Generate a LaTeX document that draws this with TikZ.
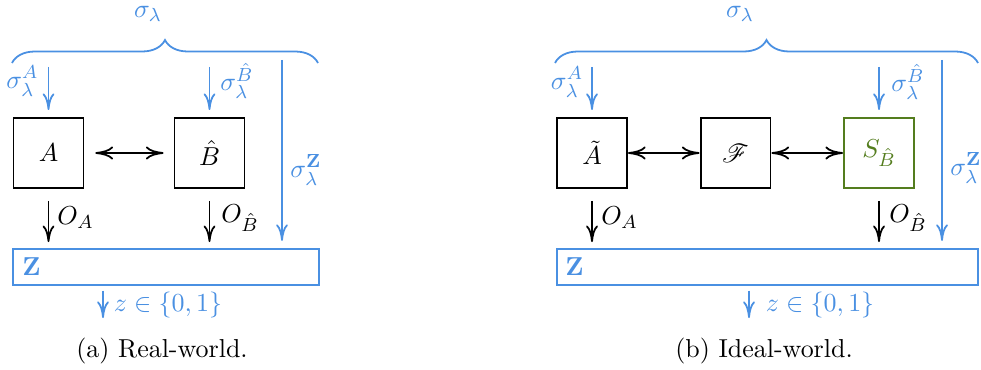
\documentclass[tikz,border=0pt,11pt]{standalone}
\usepackage{amsmath,amssymb,mathrsfs}
\usetikzlibrary{arrows.meta,decorations.pathreplacing,positioning}
\definecolor{sigblue}{RGB}{74,144,226}
\definecolor{simgreen}{RGB}{84,125,30}
\tikzset{
	party/.style={draw,line width=0.8pt,minimum size=29.5pt,inner sep=0pt},
	zbox/.style={draw=sigblue,line width=0.8pt,minimum height=15.2pt,inner sep=0pt},
	lab/.style={inner sep=0pt},
	siglab/.style={inner sep=0pt,text=sigblue},
	sig/.style={sigblue,line width=0.75pt,-{To[length=7pt,width=5pt]},shorten >=3pt},
	outarr/.style={line width=0.75pt,-{To[length=7pt,width=5pt]},shorten <=5pt,shorten >=2.5pt},
	chan/.style={line width=0.75pt,{To[length=7.5pt,width=5.5pt]}-{To[length=7.5pt,width=5.5pt]}},
	brc/.style={sigblue,line width=0.75pt,decorate,decoration={brace,amplitude=9.7pt}},
}
\begin{document}
\begin{tikzpicture}[x=0.4219pt,y=-0.4219pt]
	\useasboundingbox (0,0) rectangle (981,370);
	% (a) real world
	\draw[brc] (12,63) -- (318,63);
	\node[siglab] (sigL) at (148,14) {$\sigma_\lambda$};
	\node[party] (A) at (48.5,153) {$A$};
	\node[party] (B) at (209.5,153) {$\hat{B}$};
	\node[zbox,minimum width=129pt] (Z) at (166,267) {};
	\node[siglab,anchor=west] (Zlab) at (22,267) {$\mathbf{Z}$};
	\coordinate (sA) at (48.5,67);
	\coordinate (sB) at (209.5,67);
	\coordinate (sZ) at (282,60);
	\coordinate (zout) at (103,318);
	\draw[sig] (sA) -- (A.north);
	\draw[sig] (sB) -- (B.north);
	\draw[sig] (sZ) -- (sZ |- Z.north);
	\draw[chan,shorten <=4.6pt,shorten >=4.2pt] (A) -- (B);
	\draw[outarr] (A.south) -- (A.south |- Z.north);
	\draw[outarr] (B.south) -- (B.south |- Z.north);
	\draw[sig,shorten <=2pt,shorten >=0pt] (zout |- Z.south) -- (zout);
	\node[siglab] (sAlab) at (22.5,81) {$\sigma_\lambda^{A}$};
	\node[siglab] (sBlab) at (237,81) {$\sigma_\lambda^{\hat{B}}$};
	\node[siglab] (sZlab) at (306,170) {$\sigma_\lambda^{\mathbf{Z}}$};
	\node[lab,anchor=west] (OA) at (57,218) {$O_A$};
	\node[lab,anchor=west] (OB) at (221,218) {$O_{\hat{B}}$};
	\node[siglab] (zlab) at (168,305) {$z\in\{0,1\}$};
	\node[lab] (capA) at (162,351) {(a) Real-world.};
	% (b) ideal world
	\draw[brc] (555,63) -- (978,63);
	\node[siglab] (sigR) at (740,14) {$\sigma_\lambda$};
	\node[party] (At) at (592,153) {$\tilde{A}$};
	\node[party] (F) at (735.5,153) {$\mathscr{F}$};
	\node[party,draw=simgreen,text=simgreen] (S) at (879,153) {$S_{\hat{B}}$};
	\node[zbox,minimum width=177.6pt] (Zr) at (767.5,267) {};
	\node[siglab,anchor=west] (Zrlab) at (565,267) {$\mathbf{Z}$};
	\coordinate (sAr) at (592,67);
	\coordinate (sBr) at (879,67);
	\coordinate (sZr) at (942,60);
	\coordinate (zoutr) at (749,318);
	\draw[sig] (sAr) -- (At.north);
	\draw[sig] (sBr) -- (S.north);
	\draw[sig] (sZr) -- (sZr |- Zr.north);
	\draw[chan] (At) -- (F);
	\draw[chan] (F) -- (S);
	\draw[outarr] (At.south) -- (At.south |- Zr.north);
	\draw[outarr] (S.south) -- (S.south |- Zr.north);
	\draw[sig,shorten <=2pt,shorten >=0pt] (zoutr |- Zr.south) -- (zoutr);
	\node[siglab] (sArlab) at (567,82) {$\sigma_\lambda^{A}$};
	\node[siglab] (sBrlab) at (908,82) {$\sigma_\lambda^{\hat{B}}$};
	\node[siglab] (sZrlab) at (966,168) {$\sigma_\lambda^{\mathbf{Z}}$};
	\node[lab,anchor=west] (OAr) at (601,218) {$O_A$};
	\node[lab,anchor=west] (OBr) at (889,218) {$O_{\hat{B}}$};
	\node[siglab] (zrlab) at (820,305) {$z\in\{0,1\}$};
	\node[lab] (capB) at (764,351) {(b) Ideal-world.};
\end{tikzpicture}
\end{document}
